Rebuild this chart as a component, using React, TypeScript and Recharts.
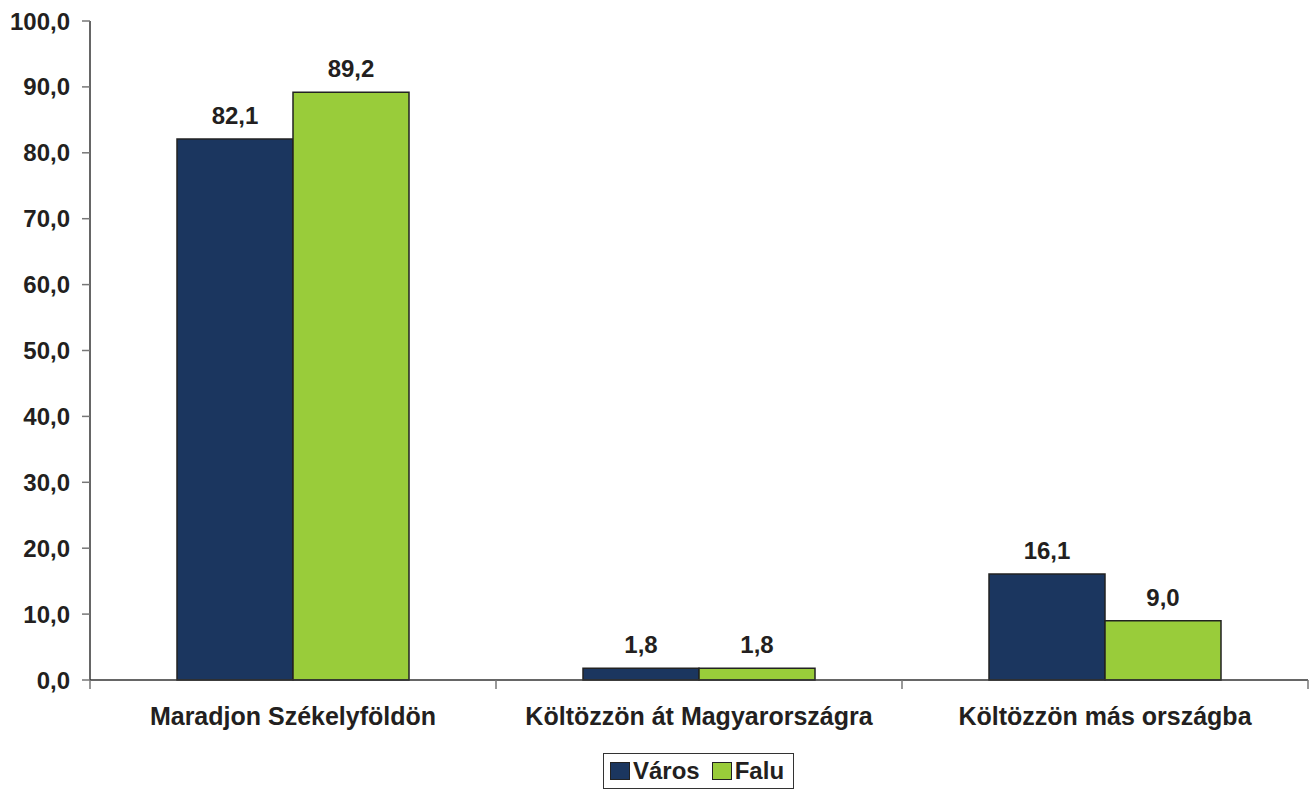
import React from 'react';
import { BarChart, Bar, XAxis, YAxis, LabelList } from 'recharts';

const categories = ['Maradjon Székelyföldön', 'Költözzön át Magyarországra', 'Költözzön más országba'];
const varosValues = [82.1, 1.8, 16.1];
const faluValues = [89.2, 1.8, 9.0];
const yTicks = [0, 10, 20, 30, 40, 50, 60, 70, 80, 90, 100];
const seriesNames = ['Város', 'Falu'];

const data = categories.map((c, i) => ({ name: c, varos: varosValues[i], falu: faluValues[i] }));

const fmt = (v: number) => v.toFixed(1).replace('.', ',');
const FONT = '"Liberation Sans", Arial, sans-serif';
const TEXT = '#231f20';
const NAVY = '#1b365f';
const GREEN = '#99cc3a';

const CHART_W = 1311;
const MARGIN_RIGHT = 3;
const Y_W = 90;
const BAND_HALF = (CHART_W - Y_W - MARGIN_RIGHT) / categories.length / 2;

const LegendBox = () => (
  <div
    style={{
      position: 'absolute',
      left: 603,
      top: 753,
      border: '1px solid #333',
      width: 191,
      height: 36,
      display: 'flex',
      alignItems: 'center',
      fontFamily: FONT,
      fontWeight: 'bold',
      fontSize: 24,
      color: TEXT,
      boxSizing: 'border-box',
      paddingLeft: 6,
    }}
  >
    <span style={{ display: 'inline-block', width: 18, height: 16, background: NAVY, border: '1px solid #222', marginRight: 3 }} />
    <span style={{ marginRight: 12 }}>{seriesNames[0]}</span>
    <span style={{ display: 'inline-block', width: 18, height: 16, background: GREEN, border: '1px solid #222', marginRight: 3 }} />
    <span>{seriesNames[1]}</span>
  </div>
);

const CatTick = (props: any) => {
  const { x, y, payload, index } = props;
  const half = payload && payload.offset > 0 ? payload.offset : BAND_HALF;
  const axisY = y - 27;
  return (
    <g>
      <line x1={x - half} x2={x - half} y1={axisY} y2={axisY + 9} stroke="#777" strokeWidth={1.5} />
      {index === categories.length - 1 && (
        <line x1={x + half} x2={x + half} y1={axisY} y2={axisY + 9} stroke="#777" strokeWidth={1.5} />
      )}
      <text x={x} y={y} dy="0.71em" textAnchor="middle" fontFamily={FONT} fontWeight="bold" fontSize={25} fill={TEXT}>
        {payload.value}
      </text>
    </g>
  );
};

export default function App() {
  return (
    <div style={{ position: 'absolute', left: 0, top: 0, width: CHART_W, height: 790, background: '#fff' }}>
      <BarChart
        width={CHART_W}
        height={790}
        data={data}
        margin={{ top: 21, right: MARGIN_RIGHT, bottom: 0, left: 0 }}
        barCategoryGap={87}
        barGap={0}
      >
        <XAxis
          dataKey="name"
          axisLine={{ stroke: '#333', strokeWidth: 1.5 }}
          tickLine={false}
          tickSize={8}
          tickMargin={19}
          interval={0}
          height={110}
          tick={<CatTick />}
        />
        <YAxis
          domain={[0, 100]}
          ticks={yTicks}
          tickFormatter={fmt}
          width={Y_W}
          tickSize={8}
          tickMargin={12}
          axisLine={{ stroke: '#333', strokeWidth: 1.5 }}
          tickLine={{ stroke: '#777', strokeWidth: 1.5 }}
          tick={{ fontFamily: FONT, fontWeight: 'bold', fontSize: 24, fill: TEXT }}
          interval={0}
        />
        <Bar dataKey="varos" name={seriesNames[0]} fill={NAVY} stroke="#222" strokeWidth={1.5} isAnimationActive={false}>
          <LabelList dataKey="varos" position="top" offset={15} formatter={(v: any) => fmt(Number(v))}
            style={{ fontFamily: FONT, fontWeight: 'bold', fontSize: 24, fill: TEXT }} />
        </Bar>
        <Bar dataKey="falu" name={seriesNames[1]} fill={GREEN} stroke="#222" strokeWidth={1.5} isAnimationActive={false}>
          <LabelList dataKey="falu" position="top" offset={15} formatter={(v: any) => fmt(Number(v))}
            style={{ fontFamily: FONT, fontWeight: 'bold', fontSize: 24, fill: TEXT }} />
        </Bar>
      </BarChart>
      <LegendBox />
    </div>
  );
}
